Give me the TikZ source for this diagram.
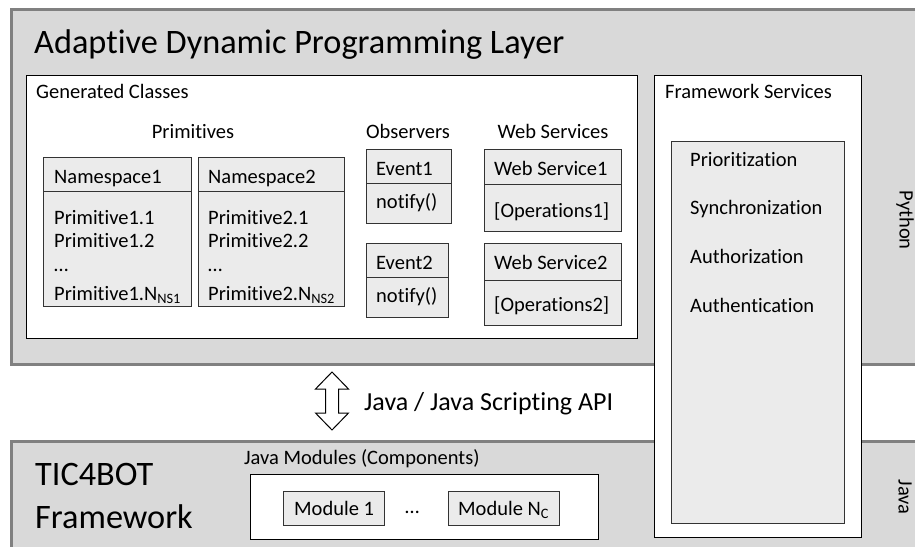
\documentclass[tikz,border=0pt]{standalone}
\usepackage{fontspec}
\setmainfont{Carlito}[Ligatures=CommonOff]
\definecolor{layfill}{HTML}{D9D9D9}
\definecolor{laygray}{HTML}{808080}
\definecolor{boxfill}{HTML}{EBEBEB}
\definecolor{boxline}{HTML}{333333}
\begin{document}
\begin{tikzpicture}[x=1pt,y=-1pt,
  layerbox/.style={draw=laygray, fill=layfill, line width=3pt, anchor=north west, inner sep=0pt},
  panel/.style={draw=black, fill=white, line width=1.3pt, anchor=north west, inner sep=0pt},
  cls/.style={draw=boxline, fill=boxfill, line width=1pt, anchor=north west, inner sep=0pt},
  sep/.style={draw=boxline, line width=1pt},
  txt/.style={anchor=base west, inner sep=0pt, font=\fontsize{20.5}{24}\selectfont},
  ctxt/.style={anchor=base, inner sep=0pt, font=\fontsize{20.5}{24}\selectfont},
  big/.style={anchor=base west, inner sep=0pt, font=\fontsize{34.3}{40}\selectfont},
]
\clip (0,0) rectangle (915,546);
\fill[white] (0,0) rectangle (915,546);

% layers
\node[layerbox, minimum width=920pt, minimum height=355pt] (adp) at (10,8) {};
\node[layerbox, minimum width=920pt, minimum height=130pt] (tic) at (10,440) {};

\node[big] (title) at (34,53) {Adaptive Dynamic Programming Layer};

% generated classes
\node[panel, minimum width=611pt, minimum height=263pt] (gen) at (26,75) {};
\node[txt] (gentxt) at (36,98) {Generated Classes};

\node[ctxt] (prim) at (193,138) {Primitives};
\node[ctxt] (obs) at (408,138) {Observers};
\node[ctxt] (wsl) at (553,138) {Web Services};

\node[cls, minimum width=148pt, minimum height=149pt] (ns1) at (43,157) {};
\draw[sep] ([yshift=-34pt]ns1.north west) -- ([yshift=-34pt]ns1.north east);
\node[txt] (ns1h) at (54,183) {Namespace1};
\node[txt] (p11) at (54,224) {Primitive1.1};
\node[txt] (p12) at (54,247) {Primitive1.2};
\node[txt] (p1d) at (54,271) {…};
\node[txt] (p1n) at (54,300) {Primitive1.N\textsubscript{NS1}};

\node[cls, minimum width=146pt, minimum height=149pt] (ns2) at (198,157) {};
\draw[sep] ([yshift=-34pt]ns2.north west) -- ([yshift=-34pt]ns2.north east);
\node[txt] (ns2h) at (208,183) {Namespace2};
\node[txt] (p21) at (208,224) {Primitive2.1};
\node[txt] (p22) at (208,247) {Primitive2.2};
\node[txt] (p2d) at (208,271) {…};
\node[txt] (p2n) at (208,300) {Primitive2.N\textsubscript{NS2}};

\node[cls, minimum width=85pt, minimum height=74pt] (ev1) at (366,149) {};
\draw[sep] ([yshift=-34pt]ev1.north west) -- ([yshift=-34pt]ev1.north east);
\node[txt] (ev1h) at (376,175) {Event1};
\node[txt] (ev1b) at (376,208) {notify()};

\node[cls, minimum width=82pt, minimum height=74pt] (ev2) at (366,243) {};
\draw[sep] ([yshift=-34pt]ev2.north west) -- ([yshift=-34pt]ev2.north east);
\node[txt] (ev2h) at (376,269) {Event2};
\node[txt] (ev2b) at (376,302) {notify()};

\node[cls, minimum width=137pt, minimum height=82pt] (ws1) at (484,149) {};
\draw[sep] ([yshift=-35pt]ws1.north west) -- ([yshift=-35pt]ws1.north east);
\node[txt] (ws1h) at (494,175) {Web Service1};
\node[txt] (ws1b) at (494,217) {[Operations1]};

\node[cls, minimum width=137pt, minimum height=82pt] (ws2) at (484,243) {};
\draw[sep] ([yshift=-37pt]ws2.north west) -- ([yshift=-37pt]ws2.north east);
\node[txt] (ws2h) at (494,269) {Web Service2};
\node[txt] (ws2b) at (494,311) {[Operations2]};

% framework services
\node[panel, minimum width=207pt, minimum height=462pt] (fws) at (654,75) {};
\node[txt] (fwstxt) at (665,98) {Framework Services};
\node[cls, minimum width=173pt, minimum height=382pt] (fwsin) at (671,141) {};
\node[txt] (s1) at (690,166) {Prioritization};
\node[txt] (s2) at (690,214) {Synchronization};
\node[txt] (s3) at (690,263) {Authorization};
\node[txt] (s4) at (690,312) {Authentication};

\node[inner sep=0pt, rotate=-90, font=\fontsize{20.5}{24}\selectfont] (py) at (905,220) {Python};
\node[inner sep=0pt, rotate=-90, font=\fontsize{20.5}{24}\selectfont] (jv) at (905,497) {Java};

% interface arrow
\coordinate (atop) at (332,372);
\draw[line width=1pt, fill=white] (atop) -- ++(16.5,17) -- ++(-10,0) -- ++(0,24) -- ++(10,0)
  -- ++(-16.5,17) -- ++(-16.5,-17) -- ++(10,0) -- ++(0,-24) -- ++(-10,0) -- cycle;
\node[anchor=base west, inner sep=0pt, font=\fontsize{26}{30}\selectfont] (api) at (364,410) {Java / Java Scripting API};

% TIC4BOT
\node[big] (tic1) at (35,485) {TIC4BOT};
\node[big] (tic2) at (35,528) {Framework};
\node[txt] (jmtxt) at (244,464) {Java Modules (Components)};
\node[panel, line width=1pt, minimum width=348pt, minimum height=65pt] (mods) at (250,474) {};
\node[cls, minimum width=101pt, minimum height=34pt] (m1) at (283,491) {};
\node[txt] (m1t) at (294,515) {Module 1};
\node[txt] (mdots) at (405,513) {…};
\node[cls, minimum width=111pt, minimum height=34pt] (mn) at (448,491) {};
\node[txt] (mnt) at (458,515) {Module N\textsubscript{C}};
\end{tikzpicture}
\end{document}
